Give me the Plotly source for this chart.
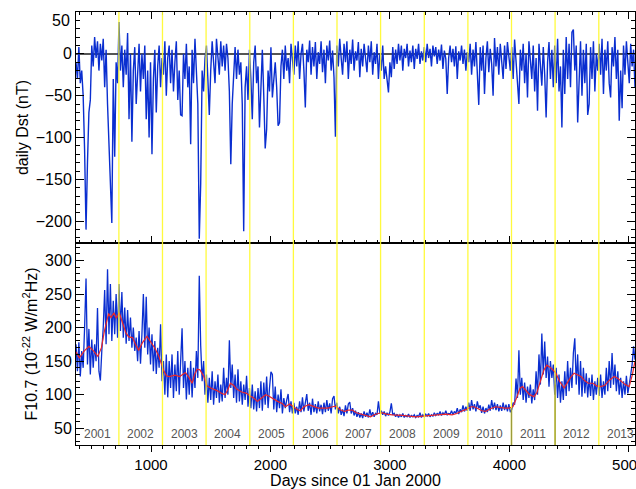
import numpy as np
import plotly.graph_objects as go

# Sampling of the daily series: first day and spacing (days since 01 Jan 2000)
DAY0 = 372
STEP = 12

# Daily Dst index (nT)
dst_vals = [
    -10, -30, 8, -35, -20, -50, -115, -210, -130, -70,
    -55, 10, -15, 20, -5, 15, -20, 12, -8, 18,
    -40, 5, -60, -107, -150, -202, -30, -123, -10, -35,
    38, -20, 10, -40, 5, -25, 25, -78, 0, -105,
    -20, 8, -60, -15, 12, -45, 0, -30, 10, -78,
    -20, -100, -10, -120, -30, 5, -70, -15, 10, -40,
    -5, -25, 15, -50, -5, 10, -35, 5, -45, -10,
    15, -55, -20, -73, -74, 0, -30, 12, -40, -15,
    -108, 5, -35, 18, -25, -60, -221, -155, -20, -45,
    -5, 10, -30, -73, -20, 15, -10, -35, 18, 0,
    -25, 15, -15, 10, -20, 12, -5, -45, -132, -60,
    -20, 8, -30, 5, -25, -10, -60, -212, -40, -15,
    -55, 5, -30, -78, -10, 10, -35, -15, -88, -25,
    5, -50, -113, -90, -20, -45, 8, -52, -30, -10,
    -40, -86, -82, -15, 5, -30, 10, -20, -5, -35,
    12, -10, -25, 10, -15, 15, -30, 0, 12, -20,
    -64, 5, -10, 16, -25, 8, -15, 14, -30, 2,
    -12, 15, -22, 5, -35, 10, -8, 16, -20, 4,
    -28, -99, 10, -15, 18, -5, -25, 12, -10, 15,
    -30, 5, -12, 17, -20, 3, -8, 14, -28, 6,
    -15, 12, -5, -22, 10, -10, 15, -25, 2, -12,
    12, -30, 0, -20, 10, -30, -15, -35, -46, -10,
    -28, 8, -18, 5, -12, 12, -8, 10, -20, 6,
    -5, 12, -15, 4, -10, 10, -18, 6, -6, 12,
    -12, 3, -8, 8, -10, 12, -5, 6, -15, 10,
    -3, 8, -12, 5, -8, 11, -18, 4, -6, -48,
    -5, 10, -10, 6, -15, 9, -30, 3, -8, 10,
    -12, 5, -20, 2, -10, 12, -25, 5, -15, 14,
    -35, -61, 8, -20, 10, -48, -5, 15, -22, 6,
    -12, -50, 19, -15, 8, -25, 12, -8, -30, 10,
    -18, 14, -5, -20, 8, -30, 17, -10, -40, -60,
    5, -20, 12, -35, 0, -52, 15, -15, -30, 10,
    -45, -5, -68, 12, -20, -38, 8, -25, -76, -10,
    14, -30, 5, -40, 10, -35, 18, -45, -15, -88,
    5, -48, 20, -30, 12, -40, 26, 29, -20, 10,
    -82, -25, 15, -50, 5, -35, 12, -73, -60, 8,
    -30, 15, -45, 0, -20, 12, -25, 18, -48, 5,
    -20, 15, -35, -52, 8, -15, 20, -30, 5, -80,
    -20, -65, 10, -25, 15, -10, -35, 12, -15, 5,
    -40,
]

# Daily F10.7 solar radio flux (10^-22 W/m^2Hz)
f107_vals = [
    175, 135, 178, 127, 165, 140, 200, 273, 145, 198,
    130, 182, 140, 175, 150, 229, 135, 121, 165, 200,
    256, 175, 287, 190, 265, 180, 240, 190, 250, 185,
    265, 195, 253, 185, 230, 176, 226, 180, 215, 170,
    200, 165, 185, 150, 195, 146, 190, 250, 170, 246,
    160, 200, 145, 190, 135, 180, 131, 170, 140, 205,
    120, 150, 100, 160, 96, 150, 110, 160, 95, 145,
    105, 165, 100, 155, 199, 110, 150, 93, 140, 100,
    150, 96, 140, 110, 165, 125, 277, 173, 120, 150,
    100, 130, 88, 125, 92, 135, 85, 120, 95, 130,
    88, 115, 90, 140, 95, 125, 100, 181, 110, 145,
    95, 130, 88, 138, 90, 120, 85, 115, 92, 128,
    82, 110, 80, 115, 78, 105, 75, 110, 80, 120,
    76, 118, 85, 127, 80, 110, 134, 130, 78, 112,
    74, 100, 80, 108, 72, 95, 80, 92, 101, 74,
    90, 72, 88, 72, 82, 70, 90, 74, 96, 75,
    92, 101, 76, 88, 70, 94, 74, 86, 72, 90,
    75, 85, 71, 88, 74, 92, 76, 87, 72, 94,
    98, 78, 88, 72, 82, 70, 78, 68, 84, 72,
    86, 89, 72, 80, 69, 76, 67, 74, 66, 72,
    65, 75, 67, 73, 66, 78, 68, 74, 67, 72,
    70, 90, 72, 76, 70, 75, 68, 73, 69, 74,
    87, 70, 72, 67, 71, 66, 70, 67, 72, 66,
    69, 67, 71, 66, 69, 67, 70, 66, 69, 67,
    73, 66, 70, 67, 71, 68, 72, 67, 70, 68,
    73, 69, 72, 70, 75, 69, 73, 70, 76, 70,
    72, 71, 76, 70, 75, 72, 80, 71, 78, 74,
    84, 75, 82, 76, 88, 76, 92, 78, 86, 75,
    90, 80, 84, 73, 82, 72, 80, 74, 85, 76,
    92, 78, 88, 77, 86, 75, 84, 76, 88, 77,
    85, 75, 86, 74, 78, 88, 85, 124, 95, 166,
    100, 125, 92, 118, 88, 112, 95, 115, 87, 108,
    92, 135, 100, 160, 115, 191, 130, 179, 125, 157,
    112, 150, 125, 145, 100, 140, 95, 130, 88, 120,
    92, 135, 98, 150, 105, 140, 110, 162, 184, 115,
    160, 100, 150, 97, 140, 102, 132, 96, 125, 98,
    130, 92, 120, 100, 125, 98, 130, 95, 120, 100,
    140, 105, 150, 110, 162, 115, 145, 105, 135, 100,
    125, 95, 120, 100, 128, 102, 115, 130, 145, 172,
    152,
]

# Running mean of F10.7
f107_mean_days = [
    372, 400, 440, 480, 520, 555, 585, 610, 645, 665, 690, 710, 734, 760,
    790, 813, 845, 870, 896, 930, 966, 1000, 1030, 1064, 1090, 1106, 1130,
    1153, 1200, 1240, 1288, 1320, 1344, 1365, 1386, 1410, 1440, 1469, 1500,
    1530, 1553, 1590, 1620, 1645, 1665, 1690, 1720, 1760, 1800, 1830, 1860,
    1890, 1920, 1960, 1985, 2020, 2060, 2098, 2126, 2160, 2190, 2224, 2250,
    2280, 2321, 2360, 2400, 2440, 2480, 2520, 2545, 2580, 2620, 2650, 2685,
    2720, 2760, 2800, 2838, 2870, 2900, 2935, 2970, 3020, 3060, 3104, 3160,
    3220, 3280, 3340, 3411, 3470, 3520, 3560, 3593, 3640, 3680, 3704, 3740,
    3770, 3802, 3840, 3886, 3920, 3960, 3997, 4030, 4060, 4090, 4110, 4140,
    4170, 4207, 4230, 4260, 4290, 4314, 4340, 4370, 4389, 4420, 4458, 4480,
    4510, 4542, 4570, 4600, 4630, 4660, 4700, 4730, 4766, 4800, 4840, 4878,
    4910, 4940, 4970, 5003, 5030, 5052,
]
f107_mean_vals = [
    164, 155, 165, 172, 165, 157, 170, 195, 221, 215, 222, 214, 222, 207,
    192, 186, 185, 175, 166, 178, 187, 178, 170, 158, 146, 136, 128,
    127, 129, 127, 133, 125, 117, 130, 138, 137, 128, 113, 110,
    108, 106, 102, 100, 108, 117, 114, 108, 104, 102, 98, 95,
    90, 94, 100, 98, 94, 90, 87, 82, 86, 82, 78, 76,
    82, 85, 82, 80, 80, 80, 82, 83, 78, 75, 77, 77,
    73, 71, 70, 67, 70, 72, 73, 71, 70, 69, 69, 68,
    67, 68, 69, 71, 71, 70, 72, 75, 78, 82, 82, 79,
    76, 75, 79, 82, 81, 80, 80, 82, 95, 110, 112, 106,
    100, 97, 103, 120, 137, 144, 141, 136, 132, 120, 110, 116,
    125, 132, 130, 127, 121, 117, 117, 113, 112, 114, 122, 127,
    124, 120, 115, 112, 130, 150,
]

# Start day of each calendar year and the year labels
year_starts = [366, 731, 1096, 1461, 1827, 2192, 2557, 2922, 3288, 3653,
               4018, 4383, 4749, 5114]
year_names = ["2001", "2002", "2003", "2004", "2005", "2006", "2007",
              "2008", "2009", "2010", "2011", "2012", "2013"]

X_RANGE = [372, 5052]
BLUE = "#0a2ed0"
RED = "#e8262b"
YELLOW = "rgba(255,250,40,0.9)"
FONT = "Liberation Sans, Arial, Helvetica, sans-serif"

days_dst = DAY0 + STEP * np.arange(len(dst_vals))
days_f107 = DAY0 + STEP * np.arange(len(f107_vals))

fig = go.Figure()
fig.add_trace(go.Scatter(x=days_dst, y=dst_vals, mode="lines",
                         line=dict(color=BLUE, width=1.4),
                         xaxis="x", yaxis="y", showlegend=False))
fig.add_trace(go.Scatter(x=days_f107, y=f107_vals, mode="lines",
                         line=dict(color=BLUE, width=1.3),
                         xaxis="x2", yaxis="y2", showlegend=False))
fig.add_trace(go.Scatter(x=f107_mean_days, y=f107_mean_vals, mode="lines",
                         line=dict(color=RED, width=1.2),
                         xaxis="x2", yaxis="y2", showlegend=False))

shapes = []
# year boundaries across both panels
for d in year_starts[1:-1]:
    shapes.append(dict(type="line", xref="x", yref="paper", x0=d, x1=d,
                       y0=0, y1=1, line=dict(color=YELLOW, width=1.3),
                       layer="above"))
# darker feet of the 2011 and 2012 boundaries
for d, top in [(4018, 80), (4383, 115)]:
    shapes.append(dict(type="line", xref="x2", yref="y2", x0=d, x1=d,
                       y0=25, y1=top, line=dict(color="#9c9c3a", width=1.4),
                       layer="above"))

annotations = []
for i, name in enumerate(year_names):
    mid = 0.5 * (year_starts[i] + year_starts[i + 1])
    annotations.append(dict(x=mid, y=41, xref="x2", yref="y2", text=name,
                            showarrow=False,
                            font=dict(size=12, color="#555555", family=FONT)))
annotations.append(dict(x=0, y=40, xref="paper", yref="y", text="50",
                        xanchor="right", xshift=-4, showarrow=False,
                        font=dict(size=16, color="black", family=FONT)))

split = 202 / 433

axis_common = dict(showline=True, linecolor="black", linewidth=1,
                   showgrid=False, tickcolor="black", tickwidth=1,
                   automargin=False)

fig.update_layout(
    width=636, height=489,
    margin=dict(l=76, r=1, t=12, b=44),
    paper_bgcolor="white", plot_bgcolor="white",
    font=dict(family=FONT, color="black"),
    shapes=shapes, annotations=annotations,
    xaxis=dict(domain=[0, 1], anchor="y", matches="x2", range=X_RANGE,
               showticklabels=False, ticks="inside", ticklen=7,
               tick0=0, dtick=1000, mirror="ticks", zeroline=False,
               minor=dict(dtick=100, tick0=0, ticklen=3, ticks="inside",
                          tickcolor="black"),
               **axis_common),
    yaxis=dict(domain=[split, 1], anchor="x", range=[-226, 50],
               tickvals=[-200, -150, -100, -50, 0],
               ticktext=["\u2212200", "\u2212150", "\u2212100", "\u221250", "0"],
               ticks="inside", ticklen=8, mirror="ticks",
               minor=dict(dtick=10, tick0=0, ticklen=4, ticks="inside",
                          tickcolor="black"),
               tickfont=dict(size=16),
               title=dict(text="daily Dst (nT)", font=dict(size=16),
                          standoff=3),
               zeroline=True, zerolinecolor="#555555", zerolinewidth=1.5,
               **axis_common),
    xaxis2=dict(domain=[0, 1], anchor="y2", range=X_RANGE,
                ticks="outside", ticklen=6, tick0=0, dtick=1000, mirror=True,
                zeroline=False, ticklabeloverflow="allow",
                minor=dict(dtick=100, tick0=0, ticklen=3, ticks="outside",
                           tickcolor="black"),
                tickfont=dict(size=15),
                title=dict(text="Days since 01 Jan 2000", font=dict(size=16),
                           standoff=2),
                **axis_common),
    yaxis2=dict(domain=[0, split], anchor="x2", range=[25, 326],
                tick0=0, dtick=50, ticks="inside", ticklen=8, mirror="ticks",
                zeroline=False,
                minor=dict(dtick=10, tick0=0, ticklen=4, ticks="inside",
                           tickcolor="black"),
                tickfont=dict(size=16),
                title=dict(text="F10.7 (10<sup>-22</sup> W/m<sup>2</sup>Hz)",
                           font=dict(size=16), standoff=3),
                **axis_common),
)

fig.write_html("out.html")
